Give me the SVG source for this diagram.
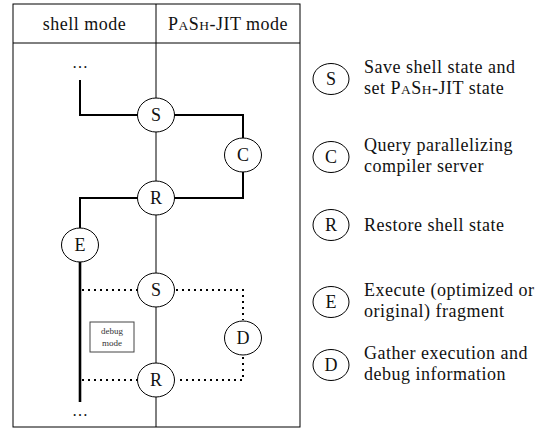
<svg xmlns="http://www.w3.org/2000/svg" width="552" height="428" viewBox="0 0 552 428">
<style>
.t{font-family:"Liberation Serif","Times New Roman",serif;fill:#111}
.hd{font-size:18px;letter-spacing:0.5px}
.lg{font-size:18px;letter-spacing:0.5px}
.nl{font-size:18px;text-anchor:middle;dominant-baseline:central}
.node{fill:#fff;stroke:#000;stroke-width:1}
.thick{fill:none;stroke:#000;stroke-width:2}
.thin{fill:none;stroke:#000;stroke-width:1}
.dot{fill:none;stroke:#000;stroke-width:2;stroke-dasharray:2 4}
.sc{font-size:13.5px}
</style>
<rect x="13" y="4" width="287" height="423" fill="#fff" stroke="#000" stroke-width="1"/>
<line x1="13" y1="43" x2="300" y2="43" stroke="#000" stroke-width="1"/>
<line x1="156" y1="4" x2="156" y2="43" stroke="#000" stroke-width="1"/>
<text class="t hd" x="84.5" y="30" text-anchor="middle">shell mode</text>
<text class="t hd" x="228" y="30" text-anchor="middle">P<tspan class="sc">A</tspan>S<tspan class="sc">H</tspan>-JIT mode</text>
<g id="connectors">
<line class="thin" x1="156" y1="43" x2="156" y2="427"/>
<path class="thick" d="M80 80 V115 H156"/>
<path class="thick" d="M156 115 H243 V155"/>
<path class="thick" d="M243 155 V198 H156"/>
<path class="thick" d="M156 198 H80 V245"/>
<line x1="80" y1="245" x2="80" y2="402" stroke="#000" stroke-width="2.6"/>
<path class="dot" d="M82 290 H138"/>
<path class="dot" d="M176 290 H243 V320"/>
<path class="dot" d="M243 357 V380 H176"/>
<path class="dot" d="M138 380 H82"/>
</g>
<text class="t" x="80" y="68" font-size="16" text-anchor="middle">…</text>
<text class="t" x="80" y="416" font-size="16" text-anchor="middle">…</text>
<g id="debug-mode">
<rect x="90" y="322" width="44" height="30" fill="#fff" stroke="#444" stroke-width="1"/>
<text class="t" x="112" y="334" font-size="9" text-anchor="middle" style="fill:#333">debug</text>
<text class="t" x="112" y="346" font-size="9" text-anchor="middle" style="fill:#333">mode</text>
</g>
<g id="S1"><ellipse class="node" cx="156" cy="115" rx="18.5" ry="17"/><text class="t nl" x="156" y="115">S</text></g>
<g id="C"><ellipse class="node" cx="243" cy="155" rx="18.5" ry="17"/><text class="t nl" x="243" y="155">C</text></g>
<g id="R1"><ellipse class="node" cx="156" cy="198" rx="18.5" ry="17"/><text class="t nl" x="156" y="198">R</text></g>
<g id="E"><ellipse class="node" cx="80" cy="245" rx="18.5" ry="17"/><text class="t nl" x="80" y="245">E</text></g>
<g id="S2"><ellipse class="node" cx="156" cy="290" rx="18.5" ry="17"/><text class="t nl" x="156" y="290">S</text></g>
<g id="D"><ellipse class="node" cx="243" cy="338" rx="18.5" ry="17"/><text class="t nl" x="243" y="338">D</text></g>
<g id="R2"><ellipse class="node" cx="156" cy="380" rx="18.5" ry="17"/><text class="t nl" x="156" y="380">R</text></g>
<g id="legend">
<g id="legend-S"><ellipse class="node" cx="331" cy="79" rx="18" ry="15.5"/><text class="t nl" x="331" y="79">S</text>
<text class="t lg" x="364" y="73">Save shell state and</text>
<text class="t lg" x="364" y="94">set P<tspan class="sc">A</tspan>S<tspan class="sc">H</tspan>-JIT state</text></g>
<g id="legend-C"><ellipse class="node" cx="331" cy="157" rx="18" ry="15.5"/><text class="t nl" x="331" y="157">C</text>
<text class="t lg" x="364" y="151">Query parallelizing</text>
<text class="t lg" x="364" y="172">compiler server</text></g>
<g id="legend-R"><ellipse class="node" cx="331" cy="225" rx="18" ry="15.5"/><text class="t nl" x="331" y="225">R</text>
<text class="t lg" x="364" y="231">Restore shell state</text></g>
<g id="legend-E"><ellipse class="node" cx="331" cy="302" rx="18" ry="15.5"/><text class="t nl" x="331" y="302">E</text>
<text class="t lg" x="364" y="296">Execute (optimized or</text>
<text class="t lg" x="364" y="317">original) fragment</text></g>
<g id="legend-D"><ellipse class="node" cx="331" cy="365" rx="18" ry="15.5"/><text class="t nl" x="331" y="365">D</text>
<text class="t lg" x="364" y="359">Gather execution and</text>
<text class="t lg" x="364" y="380">debug information</text></g>
</g>
</svg>
